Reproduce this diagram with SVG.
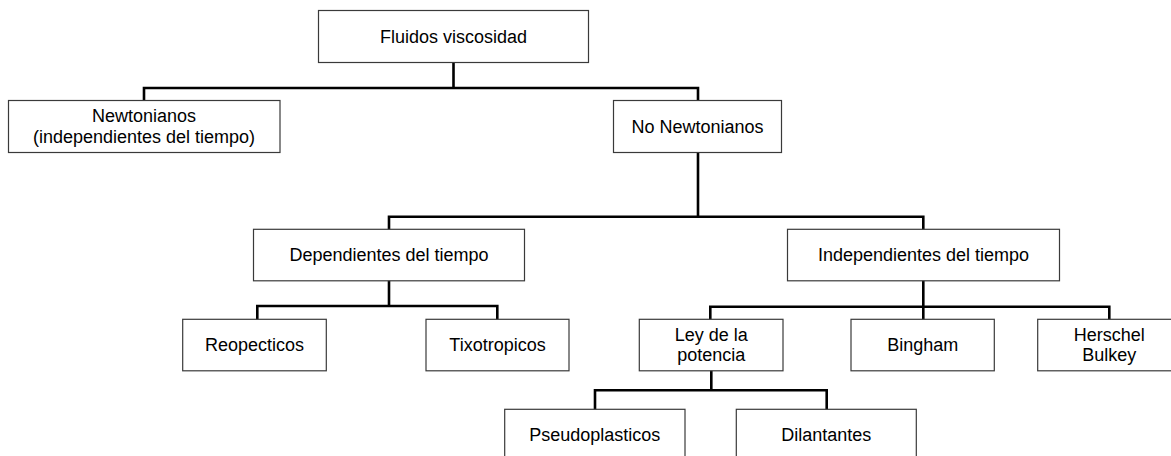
<svg xmlns="http://www.w3.org/2000/svg" width="1171" height="456" viewBox="0 0 1171 456">
  <style>
    .box { fill: #ffffff; stroke: #3a3a3a; stroke-width: 1.2; }
    .lbl { font-family: "Liberation Sans", Arial, sans-serif; font-size: 18px; fill: #000000; text-anchor: middle; }
    .wire { fill: none; stroke: #000000; stroke-width: 2.6; stroke-linecap: square; stroke-linejoin: miter; }
  </style>
  <rect width="1171" height="456" fill="#ffffff"/>

  <!-- tree connectors -->
  <g id="connectors">
    <path class="wire" d="M453.5,62.5 V88 M144,100.5 V88 H698 V100.5"/>
    <path class="wire" d="M698,152.5 V216.7 M389,229.3 V216.7 H923.3 V229.3"/>
    <path class="wire" d="M389,280.7 V306 M257.3,319.3 V306 H497.3 V319.3"/>
    <path class="wire" d="M923.3,280.7 V319.3 M710.3,319.3 V306.7 H1109.3 V319.3"/>
    <path class="wire" d="M711.3,370.7 V390.3 M595,409.3 V390.3 H826.7 V409.3"/>
  </g>

  <g id="fluidos">
    <rect class="box" x="318.5" y="10.5" width="270" height="52"/>
    <text class="lbl" x="453.5" y="42.8">Fluidos viscosidad</text>
  </g>

  <g id="newtonianos">
    <rect class="box" x="8.5" y="100.5" width="271.5" height="52"/>
    <text class="lbl" x="144" y="122">Newtonianos</text>
    <text class="lbl" x="144" y="142.6">(independientes del tiempo)</text>
  </g>

  <g id="no-newtonianos">
    <rect class="box" x="613.5" y="100.5" width="168" height="52"/>
    <text class="lbl" x="697.5" y="132.8">No Newtonianos</text>
  </g>

  <g id="dependientes">
    <rect class="box" x="253.5" y="229.3" width="271" height="51.5"/>
    <text class="lbl" x="389" y="261.4">Dependientes del tiempo</text>
  </g>

  <g id="independientes">
    <rect class="box" x="787.5" y="229.3" width="272" height="51.5"/>
    <text class="lbl" x="923.5" y="261.4">Independientes del tiempo</text>
  </g>

  <g id="reopecticos">
    <rect class="box" x="182.7" y="319.3" width="143.6" height="51.5"/>
    <text class="lbl" x="254.5" y="351.4">Reopecticos</text>
  </g>

  <g id="tixotropicos">
    <rect class="box" x="426" y="319.3" width="143" height="51.5"/>
    <text class="lbl" x="497.5" y="351.4">Tixotropicos</text>
  </g>

  <g id="ley-potencia">
    <rect class="box" x="639.3" y="319.3" width="143.7" height="51.5"/>
    <text class="lbl" x="711.2" y="340.8">Ley de la</text>
    <text class="lbl" x="711.2" y="361.4">potencia</text>
  </g>

  <g id="bingham">
    <rect class="box" x="851" y="319.3" width="143.3" height="51.5"/>
    <text class="lbl" x="922.7" y="351.4">Bingham</text>
  </g>

  <g id="herschel-bulkey">
    <rect class="box" x="1037.7" y="319.3" width="143.3" height="51.5"/>
    <text class="lbl" x="1109.3" y="340.8">Herschel</text>
    <text class="lbl" x="1109.3" y="361.4">Bulkey</text>
  </g>

  <g id="pseudoplasticos">
    <rect class="box" x="504.7" y="409.3" width="180.3" height="52"/>
    <text class="lbl" x="594.8" y="441.4">Pseudoplasticos</text>
  </g>

  <g id="dilantantes">
    <rect class="box" x="736.3" y="409.3" width="180" height="52"/>
    <text class="lbl" x="826.3" y="441.4">Dilantantes</text>
  </g>
</svg>
